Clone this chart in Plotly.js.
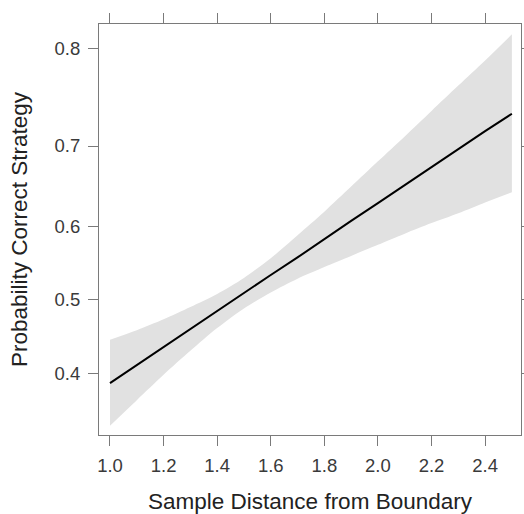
<!DOCTYPE html>
<html>
<head>
<meta charset="utf-8">
<script src="https://cdn.plot.ly/plotly-3.0.1.min.js"></script>
<style>
html,body{margin:0;padding:0;background:#fff;}
#chart{width:524px;height:514px;}
</style>
</head>
<body>
<div id="chart"></div>
<script>
// Sample distance from boundary (x)
var distance = [1.0, 1.1, 1.2, 1.3, 1.4, 1.5, 1.6, 1.7, 1.8, 1.9, 2.0, 2.1, 2.2, 2.3, 2.4, 2.5];
// Fitted probability of correct strategy
var probFit = [0.387, 0.411, 0.435, 0.460, 0.484, 0.509, 0.534, 0.558, 0.583, 0.607, 0.630, 0.653, 0.675, 0.696, 0.717, 0.736];
// Upper confidence limit
var probUpper = [0.445, 0.458, 0.473, 0.490, 0.508, 0.530, 0.557, 0.588, 0.619, 0.651, 0.682, 0.711, 0.739, 0.765, 0.789, 0.812];
// Lower confidence limit
var probLower = [0.333, 0.365, 0.398, 0.430, 0.461, 0.488, 0.510, 0.529, 0.545, 0.560, 0.575, 0.590, 0.604, 0.617, 0.631, 0.644];
// Axis tick labels
var xTickVals = [1.0, 1.2, 1.4, 1.6, 1.8, 2.0, 2.2, 2.4];
var xTickText = ["1.0", "1.2", "1.4", "1.6", "1.8", "2.0", "2.2", "2.4"];
var yTickProbs = [0.4, 0.5, 0.6, 0.7, 0.8];
var yTickText = ["0.4", "0.5", "0.6", "0.7", "0.8"];

// the vertical axis is on the logit (link) scale
function logit(p) { return Math.log(p / (1 - p)); }

var font = {family: '"Liberation Sans", Arial, Helvetica, sans-serif', color: '#3a3a3a'};

var traces = [
  {x: distance, y: probLower.map(logit), type: 'scatter', mode: 'lines',
   line: {width: 0, color: 'rgba(0,0,0,0)', shape: 'spline', smoothing: 0.8},
   hoverinfo: 'skip', showlegend: false},
  {x: distance, y: probUpper.map(logit), type: 'scatter', mode: 'lines',
   fill: 'tonexty', fillcolor: '#e1e1e1',
   line: {width: 0, color: 'rgba(0,0,0,0)', shape: 'spline', smoothing: 0.8},
   hoverinfo: 'skip', showlegend: false},
  {x: distance, y: probFit.map(logit), type: 'scatter', mode: 'lines',
   line: {width: 2, color: '#000000'}, showlegend: false}
];

var axisCommon = {
  showgrid: false, zeroline: false,
  showline: true, linecolor: '#7a7a7a', linewidth: 1, mirror: 'ticks',
  ticks: 'outside', ticklen: 10, tickwidth: 1, tickcolor: '#7a7a7a',
  tickfont: {family: font.family, color: font.color, size: 18.5}
};

var layout = {
  width: 524, height: 514,
  margin: {l: 99, r: 3, t: 24, b: 79},
  paper_bgcolor: '#ffffff', plot_bgcolor: '#ffffff',
  showlegend: false,
  xaxis: Object.assign({}, axisCommon, {
    range: [0.959, 2.534],
    tickmode: 'array', tickvals: xTickVals, ticktext: xTickText,
    ticklabelstandoff: 4,
    title: {text: 'Sample Distance from Boundary', standoff: 19,
            font: {family: font.family, color: '#222222', size: 22.5}},
    automargin: false
  }),
  yaxis: Object.assign({}, axisCommon, {
    range: [-0.746, 1.520],
    tickmode: 'array', tickvals: yTickProbs.map(logit), ticktext: yTickText,
    ticklabelstandoff: 4,
    title: {text: 'Probability Correct Strategy', standoff: 20,
            font: {family: font.family, color: '#222222', size: 22.5}},
    automargin: false
  })
};

Plotly.newPlot('chart', traces, layout, {displayModeBar: false, staticPlot: true});
</script>
</body>
</html>
